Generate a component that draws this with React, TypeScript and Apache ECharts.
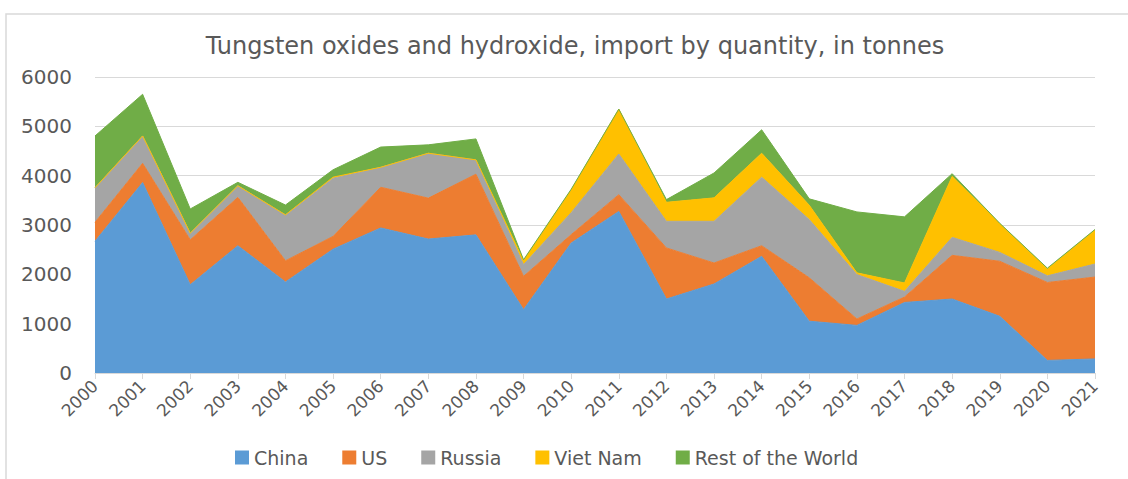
import React, { useEffect, useRef } from "react";
import * as echarts from "echarts";

const years = ["2000","2001","2002","2003","2004","2005","2006","2007","2008","2009","2010","2011","2012","2013","2014","2015","2016","2017","2018","2019","2020","2021"];
const china = [2670,3860,1790,2580,1845,2510,2940,2715,2800,1285,2635,3275,1500,1805,2365,1050,965,1430,1500,1150,255,285];
const us = [385,390,910,980,430,260,825,830,1230,675,170,340,1035,425,215,880,130,110,885,1115,1580,1660];
const russia = [700,555,135,235,930,1180,405,910,290,237,445,825,540,845,1390,1180,900,115,365,180,135,265];
const vietNam = [0,0,0,0,0,20,0,0,0,80,460,910,385,475,485,290,35,170,1235,580,140,685];
const restOfWorld = [1050,845,490,70,200,150,410,170,425,20,15,0,55,505,475,130,1235,1340,55,10,15,15];
const yTicks = { min: 0, max: 6000, interval: 1000 };

const seriesDefs = [
  { name: "China", data: china, color: "#5B9BD5" },
  { name: "US", data: us, color: "#ED7D31" },
  { name: "Russia", data: russia, color: "#A5A5A5" },
  { name: "Viet Nam", data: vietNam, color: "#FFC000" },
  { name: "Rest of the World", data: restOfWorld, color: "#70AD47" },
];

const FONT = "'DejaVu Sans', sans-serif";

export default function App() {
  const ref = useRef<HTMLDivElement>(null);
  useEffect(() => {
    if (!ref.current) return;
    const chart = echarts.init(ref.current, null, { renderer: "svg" });
    chart.setOption({
      animation: false,
      backgroundColor: "#ffffff",
      color: seriesDefs.map((s) => s.color),
      title: {
        text: "Tungsten oxides and hydroxide, import by quantity, in tonnes",
        left: 570,
        textAlign: "center",
        top: 29,
        textStyle: { fontFamily: FONT, fontSize: 24, fontWeight: "normal", color: "#595959" },
      },
      graphic: [
        {
          type: "rect",
          shape: { x: 6, y: 14, width: 1140, height: 500 },
          style: { fill: "none", stroke: "#d9d9d9", lineWidth: 1.5 },
          silent: true,
          z: -1,
        },
      ],
      legend: {
        bottom: 7,
        left: 230,
        icon: "rect",
        itemWidth: 14,
        itemHeight: 14,
        itemGap: 34,
        textStyle: { fontFamily: FONT, fontSize: 19, color: "#595959" },
        data: seriesDefs.map((s) => s.name),
      },
      grid: { left: 95, right: 33, top: 77, bottom: 106, containLabel: false },
      xAxis: {
        type: "category",
        data: years,
        boundaryGap: false,
        axisLine: { lineStyle: { color: "#d9d9d9" } },
        axisTick: { show: true, alignWithLabel: true, length: 6, lineStyle: { color: "#d9d9d9" } },
        axisLabel: { rotate: 45, margin: 10, fontFamily: FONT, fontSize: 17, color: "#595959", interval: 0 },
      },
      yAxis: {
        type: "value",
        min: yTicks.min,
        max: yTicks.max,
        interval: yTicks.interval,
        axisLine: { show: false },
        axisTick: { show: false },
        splitLine: { lineStyle: { color: "#d9d9d9", width: 1.2 } },
        axisLabel: {
          margin: 23,
          fontFamily: FONT,
          fontSize: 20,
          color: "#595959",
          formatter: (v: number) => String(v),
        },
      },
      series: seriesDefs.map((s) => ({
        name: s.name,
        type: "line",
        stack: "total",
        data: s.data,
        symbol: "none",
        lineStyle: { width: 1, color: s.color },
        areaStyle: { color: s.color, opacity: 1 },
        itemStyle: { color: s.color },
      })),
    });
    return () => chart.dispose();
  }, []);
  return (
    <div
      ref={ref}
      style={{ position: "fixed", left: 0, top: 0, width: 1128, height: 479 }}
    />
  );
}
